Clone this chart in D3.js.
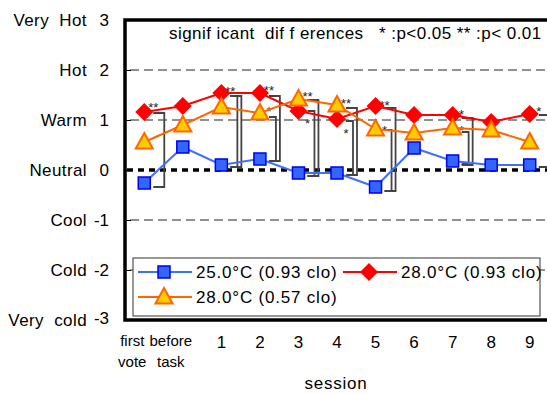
<!DOCTYPE html>
<html>
<head>
<meta charset="utf-8">
<script src="https://cdn.jsdelivr.net/npm/d3@7"></script>
<style>
body{margin:0;background:#fff;overflow:hidden}
text{font-family:"Liberation Sans",Arial,sans-serif;fill:#000}
</style>
</head>
<body>
<svg id="chart" width="547" height="394"></svg>
<script>
// categories on the x axis
var sessions = ['first vote','before task','1','2','3','4','5','6','7','8','9'];
// mean thermal sensation votes
var cool093 = [-0.26, 0.46, 0.10, 0.22, -0.06, -0.06, -0.34, 0.44, 0.18, 0.10, 0.10];
var warm093 = [1.16, 1.28, 1.54, 1.54, 1.18, 1.02, 1.28, 1.10, 1.10, 0.96, 1.12];
var warm057 = [0.56, 0.90, 1.26, 1.14, 1.42, 1.30, 0.82, 0.74, 0.84, 0.80, 0.56];
var seriesNames = ['25.0\u00b0C (0.93 clo)', '28.0\u00b0C (0.93 clo)', '28.0\u00b0C (0.57 clo)'];
// y labels
var yTicks = [3,2,1,0,-1,-2,-3];
var yWords = ['Very  Hot','Hot','Warm','Neutral','Cool','Cold','Very  cold'];
// significance brackets: session index, top, bottom, mark, mark level, nesting
var brSession = [0, 2, 2, 3, 3, 4, 4, 5, 5, 6, 6, 8, 8, 10];
var brTop     = [1.14, 1.48, 1.48, 1.48, 1.06, 1.40, 1.18, 1.24, 0.98, 1.24, 0.80, 1.04, 0.76, 1.10];
var brBottom  = [-0.34, 0.06, 0.06, 0.18, 0.18, -0.12, -0.12, -0.10, -0.10, -0.42, -0.42, 0.10, 0.12, 0.06];
var brMark    = ['**','**','','**','*','**','*','**','*','**','*','*','*','*'];
var brMarkAt  = [1.32, 1.64, 0, 1.66, 1.24, 1.54, 1.0, 1.40, 0.80, 1.36, 0.86, 1.18, 0.86, 1.24];
var brLevel   = [1, 0, 1, 1, 0, 1, 0, 1, 0, 1, 0, 1, 0, 1];

var svg = d3.select('#chart');
var plotLeft = 125, plotRight = 549, plotTop = 20, plotBottom = 320;

var x = d3.scalePoint().domain(sessions).range([plotLeft, plotRight]).padding(0.5);
var y = d3.scaleLinear().domain([-3, 3]).range([plotBottom, plotTop]);

// grid lines
svg.append('g').selectAll('line').data([2, 1, -1, -2]).enter()
	.append('line')
		.attr('x1', plotLeft + 5).attr('x2', plotRight)
		.attr('y1', function(d){return y(d)}).attr('y2', function(d){return y(d)})
		.attr('stroke', '#222').attr('stroke-width', 1)
		.attr('stroke-dasharray', '9,5');
svg.append('line')
	.attr('x1', plotLeft + 2).attr('x2', plotRight)
	.attr('y1', y(0)).attr('y2', y(0))
	.attr('stroke', '#000').attr('stroke-width', 3.5)
	.attr('stroke-dasharray', '6,5');

// inner ticks
var yAxis = svg.append('g').attr('transform', 'translate(' + plotLeft + ',0)')
	.call(d3.axisLeft(y).tickValues(yTicks).tickSize(-6).tickFormat(''));
yAxis.select('.domain').remove();
yAxis.selectAll('line').attr('stroke', '#000');

// y labels (word + number)
var yl = svg.append('g').style('font-size', '17px');
yl.selectAll('text.word').data(yTicks).enter()
	.append('text').attr('class', 'word')
		.attr('xml:space', 'preserve')
		.attr('x', 87).attr('y', function(d){return y(d) + 6})
		.attr('text-anchor', 'end').style('letter-spacing', '0.4px')
		.text(function(d, i){return yWords[i]});
yl.selectAll('text.num').data(yTicks).enter()
	.append('text').attr('class', 'num')
		.attr('x', 109).attr('y', function(d){return y(d) + (d == -3 ? 4 : 6)})
		.attr('text-anchor', 'end')
		.text(function(d){return d});

// brackets
var br = svg.append('g').attr('fill', 'none').attr('stroke', '#444').attr('stroke-width', 1.8);
brSession.forEach(function(s, i){
	var cx = x(sessions[s]);
	var vx = cx + (brLevel[i] ? 20 : 16);
	var y1 = y(brTop[i]), y2 = y(brBottom[i]);
	br.append('path')
		.attr('d', 'M' + (cx + 9) + ',' + y1 + 'H' + vx + 'V' + y2 + 'H' + (cx + 9));
	if (brMark[i] != ''){
		svg.append('text')
			.attr('x', cx + 9).attr('y', y(brMarkAt[i]) + 8)
			.attr('text-anchor', 'middle')
			.style('font-size', '13px').style('fill', '#222')
			.text(brMark[i]);
	}
});

// series
var line = d3.line().x(function(d, i){return x(sessions[i])}).y(function(d){return y(d)});

function drawSeries(data, color, marker){
	var g = svg.append('g');
	g.append('path').datum(data)
		.attr('d', line).attr('fill', 'none')
		.attr('stroke', color).attr('stroke-width', 2);
	g.selectAll('path.m').data(data).enter()
		.append('path').attr('class', 'm')
		.attr('transform', function(d, i){return 'translate(' + x(sessions[i]) + ',' + y(d) + ')'})
		.each(function(){ marker(d3.select(this)) });
}
function square(sel){
	sel.attr('d', 'M-6,-6H6V6H-6Z').attr('fill', '#3366ff').attr('stroke', '#0000ee').attr('stroke-width', 1.5);
}
function diamond(sel){
	sel.attr('d', 'M0,-9L9,0L0,9L-9,0Z').attr('fill', '#ff0000');
}
function triangle(sel){
	sel.attr('d', 'M0,-9L8.5,6.5H-8.5Z').attr('fill', '#ffcc00').attr('stroke', '#ff6600').attr('stroke-width', 2).attr('stroke-linejoin', 'miter');
}
drawSeries(cool093, '#3f6fff', square);
drawSeries(warm093, '#ff0000', diamond);
drawSeries(warm057, '#ff6600', triangle);

// frame
svg.append('path')
	.attr('d', 'M' + plotRight + ',' + plotTop + 'H' + plotLeft + 'V' + plotBottom + 'H' + plotRight)
	.attr('fill', 'none').attr('stroke', '#000').attr('stroke-width', 3.5);

// significance note
svg.append('text')
	.attr('xml:space', 'preserve')
	.attr('x', 169).attr('y', 39)
	.style('font-size', '17px').style('letter-spacing', '0.45px')
	.text('signif icant  dif f erences   * :p<0.05 ** :p< 0.01');

// legend
var lg = svg.append('g');
lg.append('rect').attr('x', 133).attr('y', 258).attr('width', 407).attr('height', 58)
	.attr('fill', '#fff').attr('stroke', '#333').attr('stroke-width', 1);
var legendPos = [[138, 272], [343, 272], [138, 297]];
var legendColor = ['#3f6fff', '#ff0000', '#ff6600'];
var legendMarker = [square, diamond, triangle];
legendPos.forEach(function(p, i){
	lg.append('line').attr('x1', p[0]).attr('x2', p[0] + 54).attr('y1', p[1]).attr('y2', p[1])
		.attr('stroke', legendColor[i]).attr('stroke-width', 2);
	var m = lg.append('path').attr('transform', 'translate(' + (p[0] + 26) + ',' + p[1] + ')');
	legendMarker[i](m);
	lg.append('text').attr('x', p[0] + 58).attr('y', p[1] + 6)
		.style('font-size', '17px').style('letter-spacing', '0.8px')
		.text(seriesNames[i]);
});

// x labels
var xl = svg.append('g');
sessions.forEach(function(s, i){
	var parts = s.split(' ');
	if (parts.length > 1){
		xl.append('text').attr('x', x(s) - 12).attr('y', 346).attr('text-anchor', 'middle')
			.style('font-size', '15px').text(parts[0]);
		xl.append('text').attr('x', x(s) - 12).attr('y', 367).attr('text-anchor', 'middle')
			.style('font-size', '15px').text(parts[1]);
	} else {
		xl.append('text').attr('x', x(s)).attr('y', 348).attr('text-anchor', 'middle')
			.style('font-size', '17px').text(s);
	}
});
svg.append('text').attr('x', 336).attr('y', 389).attr('text-anchor', 'middle')
	.style('font-size', '17px').style('letter-spacing', '0.8px').text('session');
</script>
</body>
</html>
